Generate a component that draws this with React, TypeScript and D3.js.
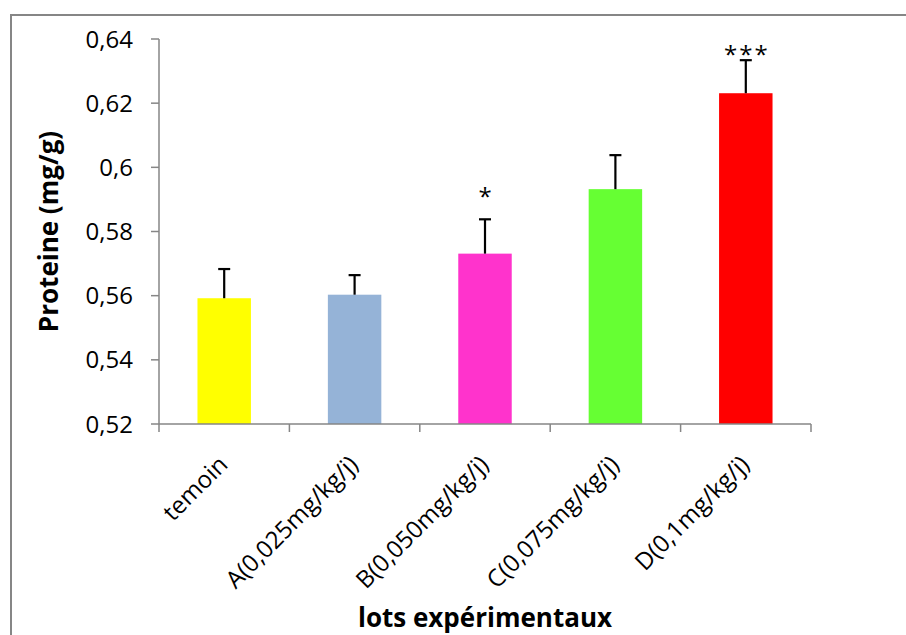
import React from "react";
import * as d3 from "d3";

const categories = [
  "temoin",
  "A(0,025mg/kg/j)",
  "B(0,050mg/kg/j)",
  "C(0,075mg/kg/j)",
  "D(0,1mg/kg/j)",
];
const means = [0.5592, 0.5603, 0.5731, 0.5932, 0.6231];
const errors = [0.0091, 0.0061, 0.0107, 0.0106, 0.0103];
const colors = ["#FFFF00", "#95B3D7", "#FF33CC", "#66FF33", "#FF0000"];
const sigLabels = ["", "", "*", "", "***"];
const sigValues = [0, 0, 0.5923, 0, 0.6365];
const yTicks = [0.52, 0.54, 0.56, 0.58, 0.6, 0.62, 0.64];
const yTickLabels = ["0,52", "0,54", "0,56", "0,58", "0,6", "0,62", "0,64"];
const yTitle = "Proteine (mg/g)";
const xTitle = "lots expérimentaux";

const W = 906;
const H = 635;
const left = 159;
const right = 811;
const top = 39;
const bottom = 424;
const font = "'Open Sans', sans-serif";

export default function App() {
  const x = d3.scaleBand<string>().domain(categories).range([left, right]).paddingInner(0.59).paddingOuter(0.295);
  const band = d3.scaleBand<string>().domain(categories).range([left, right]);
  const y = d3.scaleLinear().domain([0.52, 0.64]).range([bottom, top]);
  const bw = x.bandwidth();
  const capHalf = 6;
  const tickEdges = [left, ...categories.map((c) => (band(c) as number) + band.bandwidth())];

  return (
    <svg
      width={W}
      height={H}
      style={{ position: "absolute", left: 0, top: 0, display: "block", background: "#fff" }}
    >
      <rect x={11} y={15} width={W + 20} height={H + 20} fill="#fff" stroke="#868686" strokeWidth={2} />
      {/* bars */}
      {categories.map((c, i) => (
        <rect key={c} x={x(c)} y={y(means[i])} width={bw} height={bottom - y(means[i])} fill={colors[i]} />
      ))}
      {/* error bars */}
      {categories.map((c, i) => {
        const cx = (x(c) as number) + bw / 2;
        const yt = y(means[i] + errors[i]);
        return (
          <g key={"e" + c} stroke="#000" strokeWidth={2.2}>
            <line x1={cx} x2={cx} y1={y(means[i])} y2={yt} />
            <line x1={cx - capHalf} x2={cx + capHalf} y1={yt} y2={yt} />
          </g>
        );
      })}
      {/* significance */}
      {categories.map((c, i) =>
        sigLabels[i] ? (
          <text
            key={"s" + c}
            x={(x(c) as number) + bw / 2 + (sigLabels[i].length > 1 ? 1 : 0)}
            y={y(sigValues[i]) + 13}
            textAnchor="middle"
            fontFamily={font}
            fontSize={24}
            letterSpacing={sigLabels[i].length > 1 ? 2 : 0}
            fill="#000"
          >
            {sigLabels[i]}
          </text>
        ) : null
      )}
      {/* y axis */}
      <line x1={left} x2={left} y1={top} y2={bottom} stroke="#868686" strokeWidth={1.5} />
      {yTicks.map((t, i) => (
        <g key={"y" + t}>
          <line x1={left - 8} x2={left} y1={y(t)} y2={y(t)} stroke="#868686" strokeWidth={1.5} />
          <text
            x={133}
            y={y(t)}
            dy="0.36em"
            textAnchor="end"
            fontFamily={font}
            fontSize={24}
            fill="#000"
          >
            {yTickLabels[i]}
          </text>
        </g>
      ))}
      {/* x axis */}
      <line x1={left} x2={right} y1={bottom} y2={bottom} stroke="#868686" strokeWidth={1.5} />
      {tickEdges.map((tx, i) => (
        <line key={"xt" + i} x1={tx} x2={tx} y1={bottom} y2={bottom + 8} stroke="#868686" strokeWidth={1.5} />
      ))}
      {categories.map((c) => {
        const cx = (x(c) as number) + bw / 2 + 5;
        const ty = bottom + 42;
        return (
          <text
            key={"xl" + c}
            x={cx}
            y={ty}
            transform={`rotate(-45 ${cx} ${ty})`}
            textAnchor="end"
            fontFamily={font}
            fontSize={24}
            fill="#000"
          >
            {c}
          </text>
        );
      })}
      {/* titles */}
      <text
        x={(left + right) / 2}
        y={627}
        textAnchor="middle"
        fontFamily={font}
        fontSize={26}
        fontWeight="bold"
        fill="#000"
      >
        {xTitle}
      </text>
      <text
        transform={`translate(58 ${(top + bottom) / 2}) rotate(-90)`}
        textAnchor="middle"
        fontFamily={font}
        fontSize={26}
        fontWeight="bold"
        fill="#000"
      >
        {yTitle}
      </text>
    </svg>
  );
}
